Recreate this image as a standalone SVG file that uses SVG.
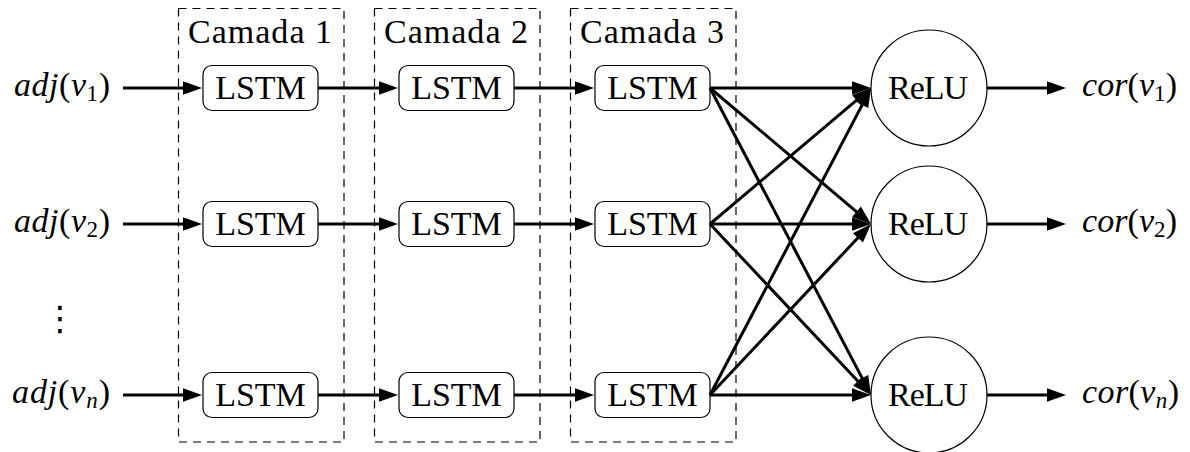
<svg xmlns="http://www.w3.org/2000/svg" width="1190" height="452" viewBox="0 0 1190 452">
<style>
text{font-size:34px;fill:#000}
.it{font-style:italic}
.sub{font-size:23px}
.layer{fill:none;stroke:#000;stroke-width:1.2;stroke-dasharray:8 6}
.lstm{fill:#fff;stroke:#000;stroke-width:1.2}
.relu{fill:#fff;stroke:#000;stroke-width:1.2}
.c{fill:none;stroke:#000;stroke-width:3;marker-end:url(#ah)}
.mid{text-anchor:middle}
</style>
<defs>
<marker id="ah" markerUnits="userSpaceOnUse" viewBox="-12 -8 22 16" markerWidth="22" markerHeight="16" refX="0" refY="0" orient="auto">
<path d="M8,0 L-11,6.8 L-11,-6.8 Z" fill="#000"/>
</marker>
</defs>
<g id="layer1"><rect class="layer" x="178.5" y="8.5" width="165.5" height="433.5"/><text font-family="Liberation Serif" class="mid" x="260" y="43" textLength="144" lengthAdjust="spacing">Camada 1</text></g>
<g id="layer2"><rect class="layer" x="374.5" y="8.5" width="165.5" height="433.5"/><text font-family="Liberation Serif" class="mid" x="456" y="43" textLength="144" lengthAdjust="spacing">Camada 2</text></g>
<g id="layer3"><rect class="layer" x="570.5" y="8.5" width="165.5" height="433.5"/><text font-family="Liberation Serif" class="mid" x="652" y="43" textLength="144" lengthAdjust="spacing">Camada 3</text></g>

<g id="in1"><text font-family="Liberation Serif" x="110" y="96" text-anchor="end" textLength="96" lengthAdjust="spacing"><tspan class="it">adj</tspan>(<tspan class="it">v</tspan><tspan class="sub" dy="5">1</tspan><tspan dy="-5">)</tspan></text></g>
<g id="in2"><text font-family="Liberation Serif" x="110" y="232" text-anchor="end" textLength="96" lengthAdjust="spacing"><tspan class="it">adj</tspan>(<tspan class="it">v</tspan><tspan class="sub" dy="5">2</tspan><tspan dy="-5">)</tspan></text></g>
<g id="vdots"><text x="60" y="330" class="mid" font-family="DejaVu Sans" font-size="30">⋮</text></g>
<g id="inn"><text font-family="Liberation Serif" x="110" y="403" text-anchor="end" textLength="98" lengthAdjust="spacing"><tspan class="it">adj</tspan>(<tspan class="it">v</tspan><tspan class="sub it" dy="5">n</tspan><tspan dy="-5">)</tspan></text></g>

<g id="lstm-1-1"><rect class="lstm" x="203" y="65.5" width="115" height="45" rx="9"/><text font-family="Liberation Serif" class="mid" x="260.5" y="99">LSTM</text></g>
<g id="lstm-1-2"><rect class="lstm" x="203" y="201.5" width="115" height="45" rx="9"/><text font-family="Liberation Serif" class="mid" x="260.5" y="235">LSTM</text></g>
<g id="lstm-1-n"><rect class="lstm" x="203" y="372.5" width="115" height="45" rx="9"/><text font-family="Liberation Serif" class="mid" x="260.5" y="406">LSTM</text></g>
<g id="lstm-2-1"><rect class="lstm" x="399" y="65.5" width="115" height="45" rx="9"/><text font-family="Liberation Serif" class="mid" x="456.5" y="99">LSTM</text></g>
<g id="lstm-2-2"><rect class="lstm" x="399" y="201.5" width="115" height="45" rx="9"/><text font-family="Liberation Serif" class="mid" x="456.5" y="235">LSTM</text></g>
<g id="lstm-2-n"><rect class="lstm" x="399" y="372.5" width="115" height="45" rx="9"/><text font-family="Liberation Serif" class="mid" x="456.5" y="406">LSTM</text></g>
<g id="lstm-3-1"><rect class="lstm" x="595" y="65.5" width="115" height="45" rx="9"/><text font-family="Liberation Serif" class="mid" x="652.5" y="99">LSTM</text></g>
<g id="lstm-3-2"><rect class="lstm" x="595" y="201.5" width="115" height="45" rx="9"/><text font-family="Liberation Serif" class="mid" x="652.5" y="235">LSTM</text></g>
<g id="lstm-3-n"><rect class="lstm" x="595" y="372.5" width="115" height="45" rx="9"/><text font-family="Liberation Serif" class="mid" x="652.5" y="406">LSTM</text></g>

<g id="relu1"><circle class="relu" cx="929" cy="88" r="58"/><text font-family="Liberation Serif" class="mid" x="928" y="99" textLength="80" lengthAdjust="spacing">ReLU</text></g>
<g id="relu2"><circle class="relu" cx="929" cy="224" r="58"/><text font-family="Liberation Serif" class="mid" x="928" y="235" textLength="80" lengthAdjust="spacing">ReLU</text></g>
<g id="relun"><circle class="relu" cx="929" cy="395" r="58"/><text font-family="Liberation Serif" class="mid" x="928" y="406" textLength="80" lengthAdjust="spacing">ReLU</text></g>

<g id="out1"><text font-family="Liberation Serif" x="1082" y="96" textLength="95" lengthAdjust="spacing"><tspan class="it">cor</tspan>(<tspan class="it">v</tspan><tspan class="sub" dy="5">1</tspan><tspan dy="-5">)</tspan></text></g>
<g id="out2"><text font-family="Liberation Serif" x="1082" y="232" textLength="95" lengthAdjust="spacing"><tspan class="it">cor</tspan>(<tspan class="it">v</tspan><tspan class="sub" dy="5">2</tspan><tspan dy="-5">)</tspan></text></g>
<g id="outn"><text font-family="Liberation Serif" x="1082" y="403" textLength="97" lengthAdjust="spacing"><tspan class="it">cor</tspan>(<tspan class="it">v</tspan><tspan class="sub it" dy="5">n</tspan><tspan dy="-5">)</tspan></text></g>

<g id="connectors">
<path class="c" d="M123,88 H194"/>
<path class="c" d="M123,224 H194"/>
<path class="c" d="M123,395 H194"/>
<path class="c" d="M318,88 H390"/>
<path class="c" d="M318,224 H390"/>
<path class="c" d="M318,395 H390"/>
<path class="c" d="M514,88 H586"/>
<path class="c" d="M514,224 H586"/>
<path class="c" d="M514,395 H586"/>
<path class="c" d="M710,88 L863,88"/>
<path class="c" d="M710,88 L864.9,218.8"/>
<path class="c" d="M710,88 L867.3,387.9"/>
<path class="c" d="M710,224 L864.9,93.2"/>
<path class="c" d="M710,224 L863,224"/>
<path class="c" d="M710,224 L865.5,389.2"/>
<path class="c" d="M710,395 L867.3,95.1"/>
<path class="c" d="M710,395 L865.5,229.8"/>
<path class="c" d="M710,395 L863,395"/>
<path class="c" d="M987,88 H1058"/>
<path class="c" d="M987,224 H1058"/>
<path class="c" d="M987,395 H1058"/>
</g>
</svg>
